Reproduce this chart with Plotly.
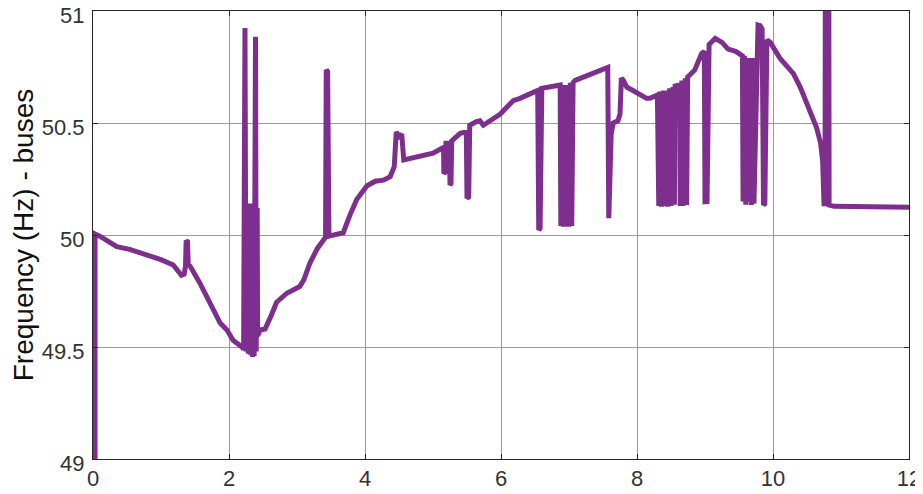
import plotly.graph_objects as go

# Time (s) and bus frequency (Hz)
time_s = [
    0.03, 0.03, 0.10, 0.20, 0.35, 0.54, 0.80, 1.00, 1.18, 1.25, 1.30, 1.34, 1.36, 1.37, 1.39, 1.40,
    1.43, 1.57, 1.77, 1.87, 1.97, 2.06, 2.19,
    2.215, 2.235, 2.25, 2.27, 2.285, 2.30, 2.315, 2.33, 2.345, 2.36, 2.37, 2.39, 2.40, 2.415, 2.42,
    2.46, 2.53, 2.62, 2.70, 2.85, 3.04, 3.10, 3.19, 3.30, 3.38, 3.42, 3.43, 3.45, 3.47, 3.55, 3.68,
    3.78, 3.88, 4.03, 4.15, 4.27, 4.37, 4.43, 4.46, 4.50, 4.54, 4.57, 4.70, 4.81, 5.00, 5.13,
    5.155, 5.16, 5.18, 5.19, 5.24, 5.25, 5.265, 5.275, 5.40, 5.49, 5.50, 5.525, 5.54, 5.64, 5.69,
    5.74, 5.85, 5.99, 6.18, 6.28, 6.50, 6.54, 6.555, 6.575, 6.60, 6.87,
    6.88, 6.90, 6.92, 6.94, 6.96, 6.975, 6.995, 7.02, 7.04, 7.06, 7.09, 7.30, 7.55, 7.57,
    7.585, 7.60, 7.62, 7.65, 7.72, 7.75, 7.77, 7.80, 7.85, 7.94, 8.04, 8.14, 8.19, 8.30,
    8.32, 8.34, 8.36, 8.39, 8.41, 8.43, 8.45, 8.48, 8.50, 8.53, 8.55, 8.56, 8.63, 8.635, 8.66,
    8.68, 8.71, 8.73, 8.745, 8.85, 8.95, 8.99, 9.00, 9.03, 9.06, 9.15, 9.25, 9.34, 9.45, 9.55,
    9.56, 9.58, 9.60, 9.62, 9.64, 9.66, 9.68, 9.70, 9.72, 9.78, 9.81, 9.84, 9.86, 9.88, 9.91,
    9.96, 10.10, 10.25, 10.30, 10.40, 10.54, 10.64, 10.70, 10.73, 10.75, 10.765, 10.77, 10.82,
    10.825, 10.90, 12.00,
]
freq_hz = [
    48.90, 50.005, 49.995, 49.975, 49.948, 49.936, 49.910, 49.890, 49.866, 49.840, 49.820, 49.825, 49.860, 49.975, 49.970, 49.870,
    49.860, 49.786, 49.665, 49.607, 49.576, 49.530, 49.500,
    49.490, 50.924, 49.480, 50.140, 49.470, 50.140, 49.465, 50.140, 49.455, 50.140, 49.460, 50.885, 49.480, 50.120, 49.550,
    49.576, 49.580, 49.640, 49.700, 49.740, 49.770, 49.800, 49.875, 49.940, 49.980, 49.990, 50.737, 50.730, 49.995, 50.000, 50.010,
    50.090, 50.160, 50.220, 50.240, 50.245, 50.260, 50.305, 50.460, 50.440, 50.450, 50.335, 50.345, 50.350, 50.365, 50.387,
    50.390, 50.275, 50.280, 50.410, 50.410, 50.223, 50.230, 50.420, 50.454, 50.460, 50.164, 50.170, 50.490, 50.506, 50.510,
    50.490, 50.510, 50.540, 50.600, 50.610, 50.640, 50.645, 50.022, 50.030, 50.655, 50.670,
    50.040, 50.670, 50.037, 50.670, 50.040, 50.670, 50.037, 50.680, 50.040, 50.680, 50.690, 50.715, 50.750, 50.748,
    50.075, 50.250, 50.450, 50.500, 50.510, 50.540, 50.700, 50.690, 50.660, 50.645, 50.625, 50.610, 50.610, 50.625,
    50.130, 50.640, 50.126, 50.645, 50.130, 50.645, 50.126, 50.655, 50.130, 50.660, 50.135, 50.665, 50.670, 50.130, 50.690,
    50.130, 50.700, 50.134, 50.705, 50.737, 50.810, 50.820, 50.149, 50.150, 50.850, 50.878, 50.860, 50.830, 50.820, 50.800,
    50.150, 50.800, 50.135, 50.790, 50.150, 50.790, 50.134, 50.790, 50.140, 50.9375, 50.935, 50.920, 50.134, 50.140, 50.870,
    50.860, 50.790, 50.740, 50.720, 50.660, 50.560, 50.480, 50.410, 50.330, 50.140, 50.140, 51.300, 51.300,
    50.134, 50.128, 50.124,
]

x_ticks = [0, 2, 4, 6, 8, 10, 12]
y_ticks = [49, 49.5, 50, 50.5, 51]
y_tick_text = ["49", "49.5", "50", "50.5", "51"]

font_family = "Liberation Sans, Arial, Helvetica, sans-serif"
axis_color = "#262626"
grid_color = "#9a9a9a"

fig = go.Figure()
fig.add_trace(go.Scatter(
    x=time_s, y=freq_hz, mode="lines",
    line=dict(color="#7E2F8E", width=5),
    showlegend=False, hoverinfo="skip",
))

# The page body adds an 8px offset, so the figure is sized to fill the rest of the window
fig.update_layout(
    width=915, height=486,
    margin=dict(l=85, r=14, t=3, b=35, autoexpand=False),
    paper_bgcolor="white", plot_bgcolor="white",
    font=dict(family=font_family, color="#333333"),
    showlegend=False,
)
fig.update_xaxes(
    range=[0, 12], tickvals=x_ticks, ticktext=[str(v) for v in x_ticks],
    showgrid=True, gridcolor=grid_color, gridwidth=1, zeroline=False,
    showline=True, linecolor=axis_color, linewidth=1, mirror="ticks",
    ticks="inside", ticklen=5, tickcolor=axis_color, automargin=False,
    ticklabeloverflow="allow",
    tickfont=dict(size=22, family=font_family, color="#333333"),
)
fig.update_yaxes(
    range=[49, 51], tickvals=y_ticks, ticktext=y_tick_text,
    showgrid=True, gridcolor=grid_color, gridwidth=1, zeroline=False,
    showline=True, linecolor=axis_color, linewidth=1, mirror="ticks",
    ticks="inside", ticklen=5, tickcolor=axis_color, automargin=False,
    ticklabeloverflow="allow", ticklabelshift=4,
    tickfont=dict(size=22, family=font_family, color="#333333"),
    ticklabelstandoff=3,
    title=dict(text="Frequency (Hz) - buses", font=dict(size=28, family=font_family, color="#111111"), standoff=0),
)

fig.write_html("out.html")
